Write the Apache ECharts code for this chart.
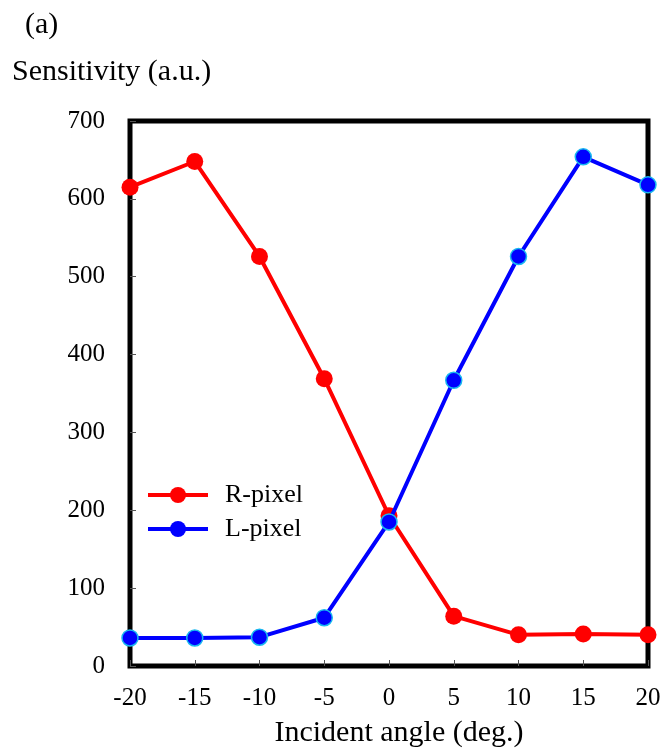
<!DOCTYPE html>
<html>
<head>
<meta charset="utf-8">
<script src="https://cdn.jsdelivr.net/npm/echarts@6/dist/echarts.min.js"></script>
<style>
  html, body { margin: 0; padding: 0; background: #fff; }
  #chart { width: 667px; height: 754px; }
</style>
</head>
<body>
<div id="chart"></div>
<script>
// Incident angles (deg.)
const angles = [-20, -15, -10, -5, 0, 5, 10, 15, 20];
// Sensitivity (a.u.) of the right- and left-side pixels
const rPixel = [615, 648, 526, 369, 193, 64, 40, 41, 40];
const lPixel = [36, 36, 37, 62, 185, 367, 526, 654, 618];

const serif = '"Liberation Serif", "Times New Roman", serif';

const chart = echarts.init(document.getElementById('chart'), null, { renderer: 'canvas' });

chart.setOption({
  animation: false,
  backgroundColor: '#fff',
  textStyle: { fontFamily: serif, color: '#000' },
  title: [
    { text: '(a)', left: 20, top: 5, textStyle: { fontFamily: serif, fontSize: 30, fontWeight: 'normal', color: '#000' } },
    { text: 'Sensitivity (a.u.)', left: 7, top: 52, textStyle: { fontFamily: serif, fontSize: 30, fontWeight: 'normal', color: '#000' } }
  ],
  grid: {
    left: 130, right: 19, top: 121, bottom: 88,
    show: true, borderColor: '#000', borderWidth: 5, backgroundColor: 'transparent'
  },
  legend: {
    orient: 'vertical',
    left: 141, top: 477,
    itemWidth: 60, itemHeight: 20, itemGap: 8,
    lineStyle: { width: 4 },
    textStyle: { fontFamily: serif, fontSize: 26, color: '#000', padding: [0, 0, 0, 12] },
    data: [
      { name: 'R-pixel' },
      { name: 'L-pixel', itemStyle: { borderWidth: 0 } }
    ]
  },
  xAxis: {
    type: 'value',
    min: -20, max: 20, interval: 5,
    name: 'Incident angle (deg.)',
    nameLocation: 'middle', nameGap: 52,
    nameTextStyle: { fontFamily: serif, fontSize: 30, color: '#000', padding: [0, 0, 0, 20] },
    axisLine: { show: false, onZero: false },
    axisTick: { show: true, inside: true, length: 6, lineStyle: { color: '#555', width: 1 } },
    axisLabel: { fontFamily: serif, fontSize: 25, color: '#000', margin: 20 },
    splitLine: { show: false }
  },
  yAxis: {
    type: 'value',
    min: 0, max: 700, interval: 100,
    axisLine: { show: false, onZero: false },
    axisTick: { show: true, inside: true, length: 6, lineStyle: { color: '#555', width: 1 } },
    axisLabel: { fontFamily: serif, fontSize: 25, color: '#000', margin: 25 },
    splitLine: { show: false }
  },
  series: [
    {
      name: 'R-pixel',
      type: 'line',
      data: angles.map((a, i) => [a, rPixel[i]]),
      symbol: 'circle', symbolSize: 17,
      lineStyle: { color: '#ff0000', width: 4 },
      itemStyle: { color: '#ff0000', borderWidth: 0 },
      z: 3
    },
    {
      name: 'L-pixel',
      type: 'line',
      data: angles.map((a, i) => [a, lPixel[i]]),
      symbol: 'circle', symbolSize: 16,
      lineStyle: { color: '#0000ff', width: 4 },
      itemStyle: { color: '#0000ff', borderColor: '#19b8f0', borderWidth: 1.5 },
      z: 4
    }
  ]
});
</script>
</body>
</html>
